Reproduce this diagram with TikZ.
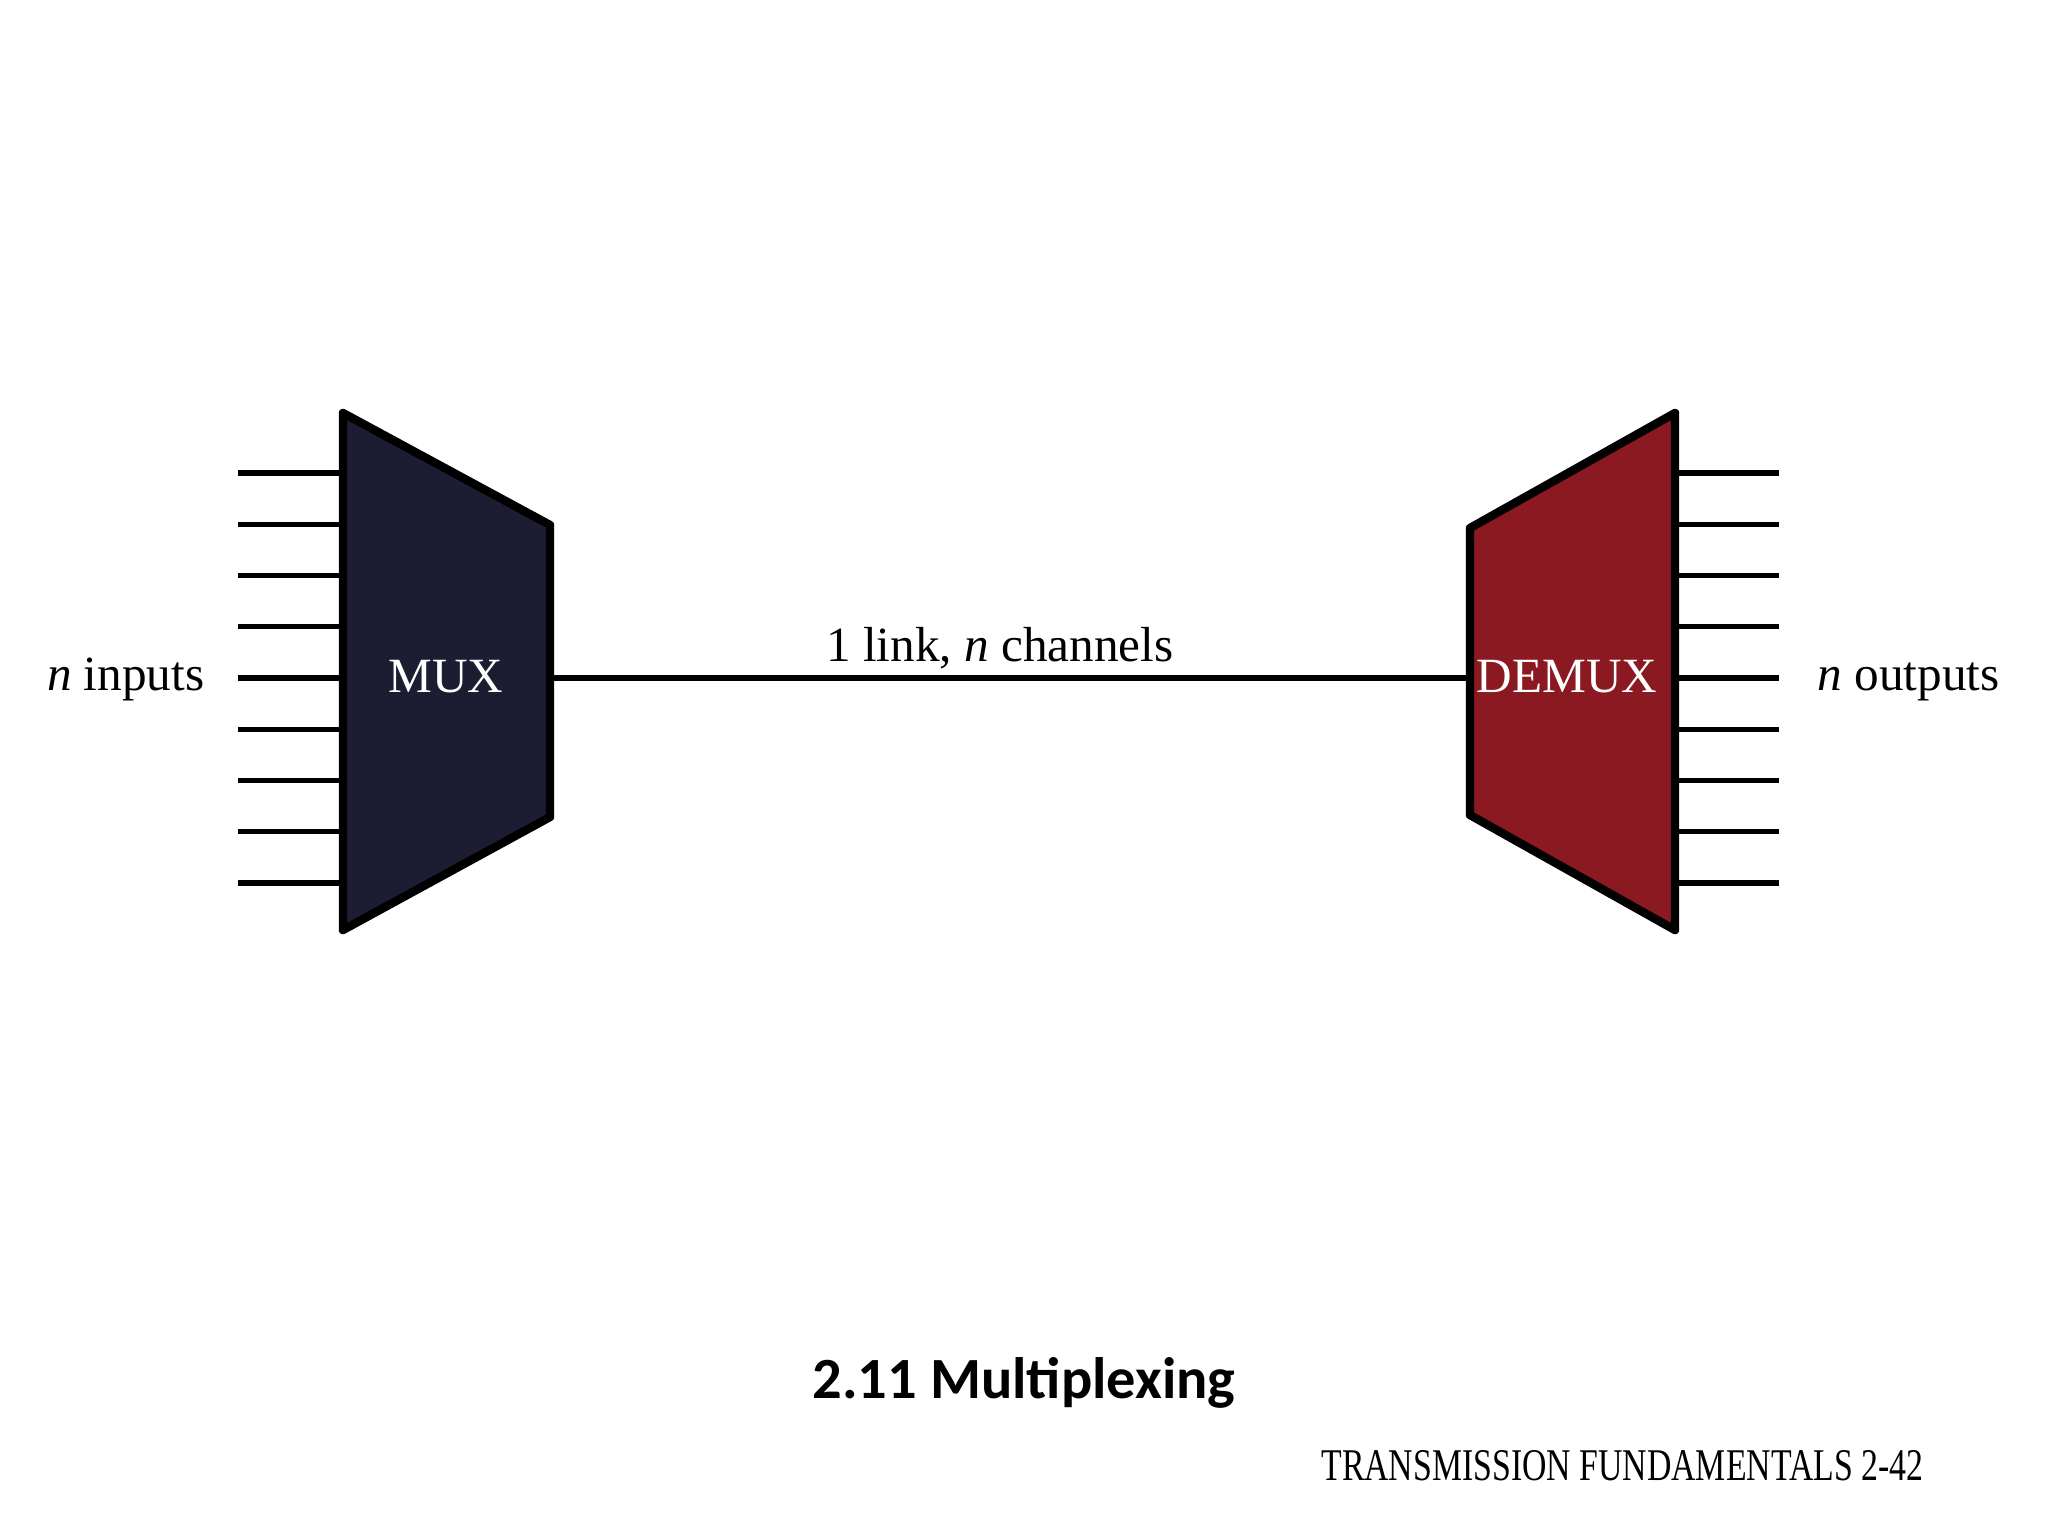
\documentclass[tikz,border=0pt]{standalone}
\usepackage{fontspec}
\setmainfont{Liberation Serif}
\newfontfamily\titlefont{Carlito}
\usepackage{graphicx}
\usepackage{xcolor}
\usepackage{tikz}
\usetikzlibrary{positioning}
\definecolor{muxblue}{RGB}{28,29,51}
\definecolor{demuxred}{RGB}{139,25,33}

\begin{document}
\begin{tikzpicture}[
  x=0.01cm, y=-0.01cm,
  lbl/.style={font=\fontsize{14}{17}\selectfont, inner sep=0pt},
  boxtxt/.style={lbl, text=white},
  wire/.style={line width=1.45pt},
  body/.style={line width=2.4pt, line join=round}
]
\path[use as bounding box, fill=white] (0,0) rectangle (2048,1536);

% mux and demux bodies
\coordinate (muxtl) at (343,413); \coordinate (muxtr) at (550,525);
\coordinate (muxbr) at (550,817); \coordinate (muxbl) at (343,930);
\coordinate (dmxtr) at (1675,413); \coordinate (dmxtl) at (1470,528);
\coordinate (dmxbl) at (1470,815); \coordinate (dmxbr) at (1675,930);
\filldraw[body, fill=muxblue] (muxtl) -- (muxtr) -- (muxbr) -- (muxbl) -- cycle;
\filldraw[body, fill=demuxred] (dmxtr) -- (dmxtl) -- (dmxbl) -- (dmxbr) -- cycle;
\node[boxtxt, anchor=base] (mux) at (446,692) {MUX};
\node[boxtxt, anchor=base] (demux) at (1567,692) {DEMUX};

% n lines on each side
\foreach \i in {0,...,8} {
  \coordinate (in\i) at (238,{473+51.25*\i});
  \coordinate (out\i) at (1779,{473+51.25*\i});
  \draw[wire] (in\i) -- (in\i -| muxtl);
  \draw[wire] (out\i -| dmxtr) -- (out\i);
}
\draw[wire] (in4 -| muxtr) -- (in4 -| dmxtl);

\node[lbl, anchor=base east] (inlbl) at (205,690) {\textit{n} inputs};
\node[lbl, anchor=base west] (outlbl) at (1817,690) {\textit{n} outputs};
\node[lbl, anchor=base] (link) at (1000,661) {1 link, \textit{n} channels};

\node[font=\titlefont\bfseries\fontsize{16.6}{20}\selectfont, anchor=base, inner sep=0pt]
  (title) at (1024,1398) {2.11 Multiplexing};
\node[anchor=base east, inner sep=0pt] (footer) at (1924,1480)
  {\scalebox{0.745}[1]{\fontsize{12.9}{15}\selectfont TRANSMISSION FUNDAMENTALS 2-42}};
\end{tikzpicture}
\end{document}
